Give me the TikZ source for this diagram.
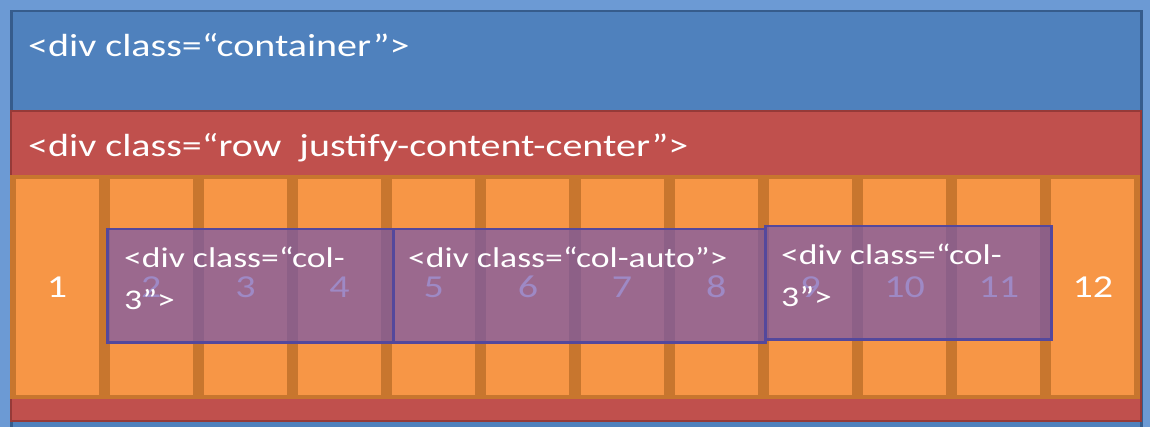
\documentclass[tikz,border=0pt]{standalone}
\usepackage{fontspec}
\setmainfont{Carlito}[FakeStretch=1.25]
\usepackage{xcolor}
\usetikzlibrary{positioning, backgrounds}

\definecolor{pagebg}{RGB}{108,154,212}
\definecolor{contblue}{RGB}{79,129,189}
\definecolor{contedge}{RGB}{54,92,140}
\definecolor{rowred}{RGB}{192,80,77}
\definecolor{rowedge}{RGB}{150,58,56}
\definecolor{colorange}{RGB}{247,150,70}
\definecolor{coledge}{RGB}{200,118,46}
\definecolor{spanfill}{RGB}{117,87,173}
\definecolor{spanedge}{RGB}{84,72,156}

\begin{document}
\begin{tikzpicture}[
      x=1pt, y=1pt,
      font=\fontsize{32}{38}\selectfont,
      cont/.style={draw=contedge, line width=2.5pt, fill=contblue, anchor=north west, inner sep=0pt},
      rowbox/.style={draw=rowedge, line width=2pt, fill=rowred, anchor=north west, inner sep=0pt},
      band/.style={fill=coledge, anchor=north west, inner sep=0pt},
      colcell/.style={draw=coledge, line width=1pt, fill=colorange, text=white, inner sep=0pt,
                      minimum width=84pt, minimum height=216pt, font=\fontsize{32}{38}\selectfont},
      span/.style={draw=spanedge, line width=2.5pt, fill=spanfill, fill opacity=0.7, anchor=north west, inner sep=0pt,
                   minimum height=113pt},
      lbl/.style={text=white, anchor=west, inner sep=0pt},
      spantext/.style={text=white, anchor=north west, align=left, inner sep=0pt,
                       font=\fontsize{28.5}{42}\selectfont},
    ]
    \fill[pagebg] (0,0) rectangle (1150,-427);
    \useasboundingbox (0,0) rectangle (1150,-427);

    % Container
    \node[cont, minimum width=1130pt, minimum height=440pt] (container) at (10,-10) {};
    \node[lbl] (contlbl) at (28,-45) {<div class=“container”>};

    % Row
    \node[rowbox, minimum width=1130pt, minimum height=310pt] (row) at (10,-110) {};
    \node[lbl] (rowlbl) at (28,-148) {<div class=“row\ \ justify-content-center”>};

    % Grid columns
    \node[band, minimum width=1130pt, minimum height=224pt] (grid) at (10,-175) {};
    \node[colcell] (c1) at (57.1,-287) {\raisebox{-3pt}{1}};
    \foreach \i [remember=\i as \j (initially 1)] in {2,...,12}
      \node[colcell, right=9.17pt of c\j] (c\i) {\raisebox{-3pt}{\i}};

    % Column spans
    \node[span, minimum width=286pt] (colA) at (106,-228) {};
    \node[span, minimum width=372pt] (colB) at (392,-228) {};
    \node[span, minimum width=286pt] (colC) at (764,-225) {};
    \node[spantext] (colAlbl) at ([xshift=18, yshift=-19]colA.north west) {<div class=“col-\\3”>};
    \node[spantext] (colBlbl) at ([xshift=16, yshift=-19]colB.north west) {<div class=“col-auto”>};
    \node[spantext] (colClbl) at ([xshift=17, yshift=-19]colC.north west) {<div class=“col-\\3”>};
  \end{tikzpicture}
\end{document}
